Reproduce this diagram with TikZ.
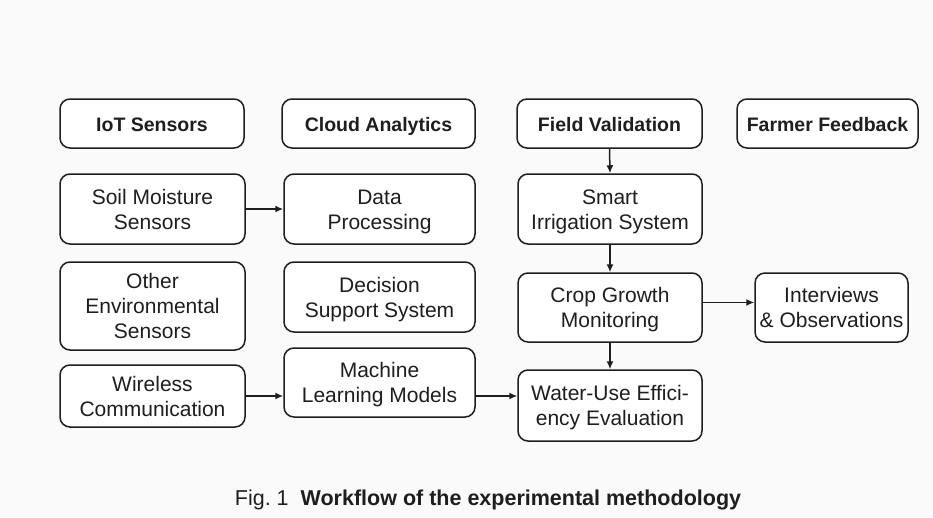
\documentclass[tikz,border=0pt]{standalone}
\usepackage{fontspec}
\setmainfont{Liberation Sans}
\usetikzlibrary{arrows.meta}
\definecolor{bgc}{HTML}{FAFAFA}
\definecolor{ink}{HTML}{1E1E1E}
\newcommand{\lnst}{\rule[-5pt]{0pt}{25pt}}
\newcommand{\hdst}{\rule[-4pt]{0pt}{24pt}}
\tikzset{
  boxbase/.style={draw=ink, line width=1.5pt, rounded corners=10pt, fill=white, inner sep=0pt, align=center, text=ink},
  headbox/.style={boxbase, minimum height=49pt, font=\fontsize{19.5}{24}\selectfont\bfseries},
  stepbox/.style={boxbase, font=\fontsize{21}{25}\selectfont},
  arr/.style={draw=ink, line width=1.5pt, -{Latex[length=8pt,width=7pt]}}
}
\begin{document}
\begin{tikzpicture}[x=1pt,y=-1pt]
\fill[bgc] (0,0) rectangle (933,517);
\useasboundingbox (0,0) rectangle (933,517);
% headers
\node[headbox, minimum width=184pt] (iot) at (152,123.5) {\hdst IoT Sensors};
\node[headbox, minimum width=193pt] (cloud) at (378.5,123.5) {\hdst Cloud Analytics};
\node[headbox, minimum width=185pt] (field) at (609.5,123.5) {\hdst Field Validation};
\node[headbox, minimum width=181pt] (farmer) at (827.5,123.5) {\hdst Farmer Feedback};
% column 1
\node[stepbox, minimum width=185pt, minimum height=70pt] (soil) at (152.5,209) {\lnst Soil Moisture\\\lnst Sensors};
\node[stepbox, minimum width=185pt, minimum height=88pt] (other) at (152.5,306) {\lnst Other\\\lnst Environmental\\\lnst Sensors};
\node[stepbox, minimum width=185pt, minimum height=62pt] (wire) at (152.5,396) {\lnst Wireless\\\lnst Communication};
% column 2
\node[stepbox, minimum width=191pt, minimum height=70pt] (data) at (379.5,209) {\lnst Data\\\lnst Processing};
\node[stepbox, minimum width=191pt, minimum height=70pt] (dss) at (379.5,297) {\lnst Decision\\\lnst Support System};
\node[stepbox, minimum width=191pt, minimum height=69pt] (ml) at (379.5,382.5) {\lnst Machine\\\lnst Learning Models};
% column 3
\node[stepbox, minimum width=184pt, minimum height=70pt] (smart) at (610,209) {\lnst Smart\\\lnst Irrigation System};
\node[stepbox, minimum width=184pt, minimum height=69pt] (crop) at (610,307.5) {\lnst Crop Growth\\\lnst Monitoring};
\node[stepbox, minimum width=184pt, minimum height=71pt] (water) at (610,405.5) {\lnst Water-Use Effici-\\\lnst ency Evaluation};
% column 4
\node[stepbox, minimum width=153pt, minimum height=69pt] (inter) at (831.5,307.5) {\lnst Interviews\\\lnst\&~Observations};
% connectors
\draw[arr] (soil.east) -- (data.west);
\draw[arr] (wire.east) -- (wire.east -| ml.west);
\draw[arr] (ml.east |- wire.east) -- (water.west |- wire.east);
\draw[arr] (field.south) -- (smart.north);
\draw[arr] (smart.south) -- (crop.north);
\draw[arr] (crop.south) -- (water.north);
\draw[arr] ([yshift=5pt]crop.east) -- ([yshift=5pt]crop.east -| inter.west);
% caption
\node[anchor=base, text=ink, inner sep=0pt, font=\fontsize{21.5}{26}\selectfont] (cap) at (488,505) {Fig.~1\hspace{12pt}\textbf{Workflow of the experimental methodology}};
\end{tikzpicture}
\end{document}
